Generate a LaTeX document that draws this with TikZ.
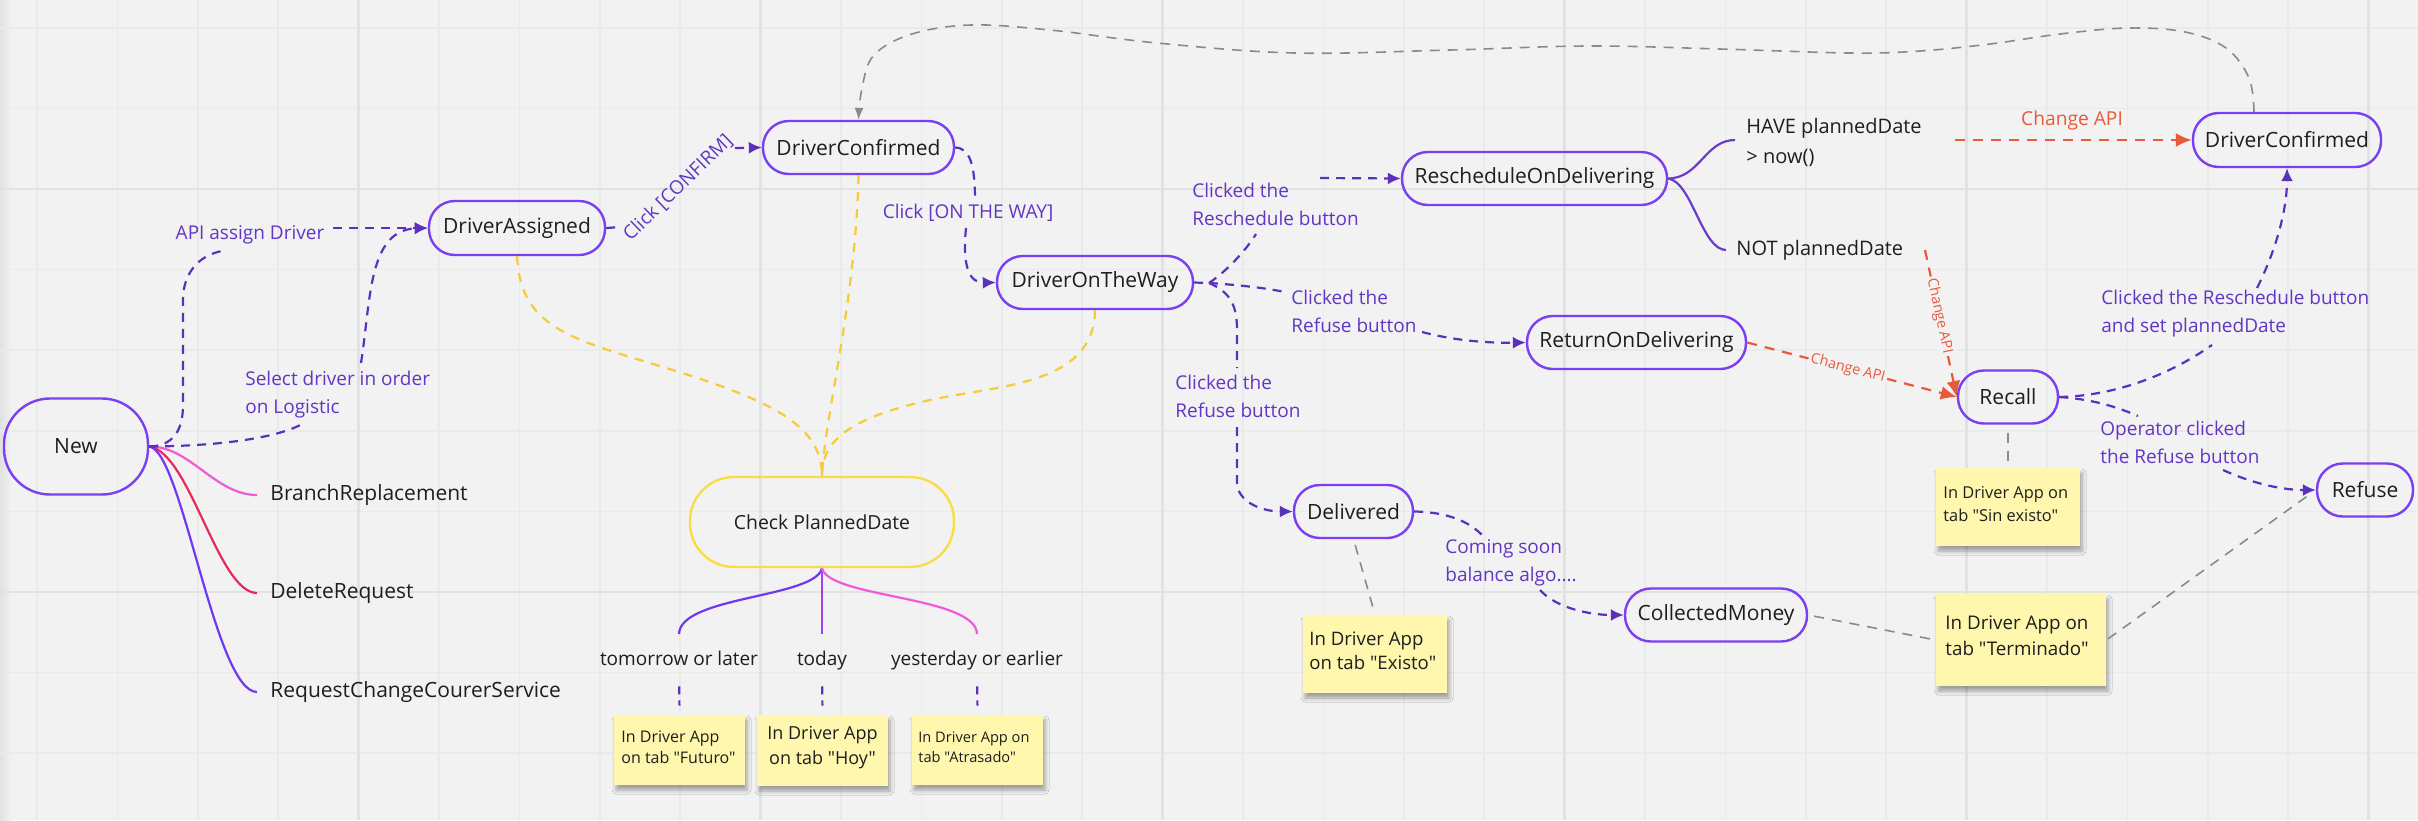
\documentclass[tikz,border=0pt]{standalone}
\usepackage{fontspec}
\setmainfont{Open Sans}[Ligatures=TeXOff]
\usetikzlibrary{arrows.meta,shadows,shadows.blur}
\definecolor{bg}{HTML}{F2F2F2}
\definecolor{gridmin}{HTML}{EAEAEA}
\definecolor{gridmaj}{HTML}{E2E2E2}
\definecolor{nodeb}{HTML}{7A3FF0}
\definecolor{ptext}{HTML}{6236C4}
\definecolor{parrow}{HTML}{5B31BC}
\definecolor{orng}{HTML}{E85A3C}
\definecolor{yline}{HTML}{F5CB3A}
\definecolor{yborder}{HTML}{FADC45}
\definecolor{stickyc}{HTML}{FFF7AE}
\definecolor{gline}{HTML}{8A8A8A}
\definecolor{txt}{HTML}{1E1E1E}
\definecolor{pinkc}{HTML}{F05AD7}
\definecolor{redc}{HTML}{E8295B}
\definecolor{violc}{HTML}{7038F0}
\definecolor{midc}{HTML}{A040EE}
\definecolor{rodc}{HTML}{6A3CC8}
\tikzset{
  gmin/.style={draw=gridmin, line width=0.75pt},
  gmaj/.style={draw=gridmaj, line width=1.25pt},
  state/.style={draw=nodeb, line width=1.2pt, rounded corners=12.9pt, minimum height=26.5pt,
    inner sep=0pt, text=txt, font=\fontsize{10.5pt}{12pt}\selectfont},
  bigstate/.style={state, rounded corners=23pt, minimum height=48pt},
  lbl/.style={text=ptext, font=\fontsize{9.5pt}{14pt}\selectfont, inner sep=0pt, align=left},
  leaf/.style={text=txt, font=\fontsize{10.5pt}{15pt}\selectfont, inner sep=0pt, align=left},
  cond/.style={text=txt, font=\fontsize{9.5pt}{12pt}\selectfont, inner sep=0pt, text height=7pt, text depth=2pt},
  olbl/.style={text=orng, font=\fontsize{9.6pt}{12pt}\selectfont, inner sep=0pt},
  osmall/.style={text=orng, font=\fontsize{7.2pt}{9pt}\selectfont, inner sep=1.2pt, fill=bg},
  flow/.style={draw=parrow, line width=1.1pt, dash pattern=on 4.5pt off 3.5pt},
  flowarrow/.style={flow, -{Latex[length=6.5pt,width=6pt]}},
  oflow/.style={draw=orng, line width=1.1pt, dash pattern=on 5pt off 4pt, -{Latex[length=8pt,width=7pt]}},
  ydash/.style={draw=yline, line width=1.1pt, dash pattern=on 4.5pt off 4pt},
  gdash/.style={draw=gline, line width=0.8pt, dash pattern=on 5pt off 4pt},
  pdash/.style={draw=parrow, line width=1.1pt, dash pattern=on 4pt off 3pt},
  solidl/.style={line width=1.1pt},
  sticky/.style={fill=stickyc, inner sep=0pt,
    blur shadow={shadow xshift=1pt, shadow yshift=-2.5pt, shadow opacity=35, shadow blur radius=2pt}},
  stext/.style={text=txt, inner sep=0pt, align=left},
}
\begin{document}
\begin{tikzpicture}[x=0.5pt,y=0.5pt]
\fill[bg] (0,0) rectangle (2418,-820);
\useasboundingbox (0,0) rectangle (2418,-820);
\fill[left color=gridmaj, right color=bg] (0,0) rectangle (12,-820);
% grid
\foreach \k in {0,...,29} {\draw[gmin] ({37+80.4*\k},0) -- ({37+80.4*\k},-820);}
\foreach \j in {0,...,9} {\draw[gmin] (0,{-27.8-80.6*\j}) -- (2418,{-27.8-80.6*\j});}
\foreach \k in {4,9,14,19,24,29} {\draw[gmaj] ({37+80.4*\k},0) -- ({37+80.4*\k},-820);}
\foreach \j in {2,7} {\draw[gmaj] (0,{-27.8-80.6*\j}) -- (2418,{-27.8-80.6*\j});}

% state nodes
\node[bigstate, minimum width=72pt] (New) at (76,-446.5) {New};
\node[state, minimum width=88pt, minimum height=27pt] (DA) at (517,-228) {DriverAssigned};
\node[state, minimum width=95.5pt] (DC) at (858.5,-147.5) {DriverConfirmed};
\node[state, minimum width=98pt] (DOTW) at (1095,-282.5) {DriverOnTheWay};
\node[state, minimum width=132.5pt] (RoD) at (1534.5,-178.5) {RescheduleOnDelivering};
\node[state, minimum width=109.5pt] (RetOD) at (1636.5,-342.5) {ReturnOnDelivering};
\node[state, minimum width=94pt, minimum height=27pt] (DCr) at (2287,-140) {DriverConfirmed};
\node[state, minimum width=50pt] (Recall) at (2008,-397) {Recall};
\node[state, minimum width=48pt] (Refuse) at (2365,-490) {Refuse};
\node[state, minimum width=59.5pt] (Delivered) at (1353.5,-511.5) {Delivered};
\node[state, minimum width=91pt] (CM) at (1716,-615) {CollectedMoney};
\node[bigstate, draw=yborder, minimum width=132pt, minimum height=45pt, rounded corners=22pt,
  font=\fontsize{9.7pt}{12pt}\selectfont] (CPD) at (822,-522) {Check PlannedDate};

% plain texts
\node[leaf, anchor=west] (lBR) at (270,-495) {BranchReplacement};
\node[leaf, anchor=west] (lDel) at (270,-593) {DeleteRequest};
\node[leaf, anchor=west] (lRC) at (270,-692) {RequestChangeCourerService};
\node[cond] (lTom) at (679,-660) {tomorrow or later};
\node[cond] (lTod) at (822,-660) {today};
\node[cond] (lYes) at (977,-660) {yesterday or earlier};
\node[leaf, anchor=west, font=\fontsize{10pt}{15pt}\selectfont] (lHave) at (1746,-142) {HAVE plannedDate\\> now()};
\node[leaf, anchor=west, font=\fontsize{10pt}{15pt}\selectfont] (lNot) at (1736,-250) {NOT plannedDate};

% purple labels
\node[lbl] (lAPI) at (250,-235) {API assign Driver};
\node[lbl, anchor=west] (lSel) at (245,-395) {Select driver in order\\on Logistic};
\node[lbl, rotate=44] (lConf) at (678,-188) {Click [CONFIRM]};
\node[lbl] (lOTW) at (968,-213) {Click [ON THE WAY]};
\node[lbl, anchor=west] (lRes) at (1192,-204) {Clicked the\\Reschedule button};
\node[lbl, anchor=west] (lRef1) at (1291,-311.5) {Clicked the\\Refuse button};
\node[lbl, anchor=west] (lRef2) at (1175,-396) {Clicked the\\Refuse button};
\node[lbl, anchor=west] (lCom) at (1445,-562.5) {Coming soon\\balance algo....};
\node[lbl, anchor=west] (lRS) at (2101,-314) {Clicked the Reschedule button\\and set plannedDate};
\node[lbl, anchor=west] (lOp) at (2100,-442.5) {Operator clicked\\the Refuse button};
\node[olbl] (lCA) at (2072,-121) {Change API};

% New branches
\draw[solidl, draw=pinkc, shorten >=6.5pt] (New.east) .. controls (190,-446) and (215,-495) .. (lBR.west);
\draw[solidl, draw=redc, shorten >=6.5pt] (New.east) .. controls (190,-452) and (218,-593) .. (lDel.west);
\draw[solidl, draw=violc, shorten >=6.5pt] (New.east) .. controls (182,-450) and (215,-692) .. (lRC.west);

% New -> DriverAssigned
\draw[flow] (New.east) .. controls (172,-446) and (183,-432) .. (183,-405) -- (183,-300) .. controls (183,-272) and (200,-255) .. (222,-251);
\draw[flowarrow] (333,-228) -- (DA.west);
\draw[flow] (New.east) .. controls (225,-446) and (280,-437) .. (304,-423);
\draw[flowarrow] (361,-363) .. controls (371,-300) and (368,-230) .. (DA.west);

% DA -> DC
\draw[flow] (DA.east) -- (621,-227);
\draw[flowarrow] (735,-148) -- (DC.west);

% DC -> DOTW
\draw[flow] (DC.east) .. controls (970,-148) and (975,-165) .. (975,-200);
\draw[flowarrow] (966,-228) .. controls (962,-268) and (970,-283) .. (DOTW.west);

% DOTW fan-out
\coordinate (J) at (1209,-283);
\draw[flow] (DOTW.east) -- (J);
\draw[flow] (J) .. controls (1228,-270) and (1246,-250) .. (1256,-234);
\draw[flowarrow] (1320,-178) -- (RoD.west);
\draw[flow] (J) .. controls (1240,-285) and (1265,-288) .. (1285,-292);
\draw[flowarrow] (1422,-332) .. controls (1460,-342) and (1495,-343) .. (RetOD.west);
\draw[flow] (J) .. controls (1230,-292) and (1237,-305) .. (1237,-330) -- (1237,-368);
\draw[flowarrow] (1237,-427) -- (1237,-482) .. controls (1237,-502) and (1262,-511.5) .. (Delivered.west);

% Delivered -> CM
\draw[flow] (Delivered.east) .. controls (1448,-512) and (1470,-522) .. (1483,-536);
\draw[flowarrow] (1540,-590) .. controls (1556,-608) and (1590,-615) .. (CM.west);

% RoD branches
\draw[solidl, draw=rodc] (RoD.east) .. controls (1700,-178) and (1705,-140) .. (1735,-140);
\draw[solidl, draw=rodc] (RoD.east) .. controls (1692,-182) and (1702,-250) .. (1726,-250);

% orange
\coordinate (H) at (1955,-140);
\coordinate (Nt) at (1925,-250);
\draw[oflow] (H) -- (DCr.west);
\draw[oflow] (Nt) -- node[osmall, sloped, pos=0.45] {Change API} (Recall.west);
\draw[oflow] (RetOD.east) -- node[osmall, sloped, pos=0.48] {Change API} (Recall.west);

% Recall outgoing
\draw[flow] (Recall.east) .. controls (2110,-396) and (2165,-378) .. (2212,-345);
\draw[flowarrow] (2257,-288) .. controls (2276,-250) and (2287,-210) .. (DCr.south);
\draw[flow] (Recall.east) .. controls (2090,-399) and (2115,-406) .. (2138,-416);
\draw[flowarrow] (2223,-470) .. controls (2256,-485) and (2285,-490) .. (Refuse.west);

% gray loop
\coordinate (gtop) at ([xshift=-16.5pt]DCr.north);
\draw[gdash, -{Latex[length=6pt,width=4.5pt]}] plot[smooth, tension=0.6] coordinates {(gtop) (2249,-78) (2226,-48) (2185,-32) (2128,-28) (2060,-34) (1990,-44) (1920,-51) (1850,-53) (1720,-49) (1588,-46) (1450,-50) (1295,-53) (1157,-43) (1050,-30) (971,-25) (912,-34) (874,-55) (862,-88) (DC.north)};

% yellow
\draw[ydash] (DA.south) .. controls (520,-320) and (560,-336) .. (640,-360) .. controls (760,-396) and (822,-420) .. (CPD.north);
\draw[ydash] (DC.south) .. controls (856,-300) and (824,-420) .. (CPD.north);
\draw[ydash] (DOTW.south) .. controls (1094,-385) and (1000,-385) .. (930,-400) .. controls (850,-418) and (822,-440) .. (CPD.north);

% CPD branches
\draw[solidl, draw=violc] (CPD.south) .. controls (815,-598) and (680,-596) .. (679,-634);
\draw[solidl, draw=midc] (CPD.south) -- (822,-634);
\draw[solidl, draw=pinkc] (CPD.south) .. controls (829,-598) and (976,-596) .. (977,-634);

% sticky notes
\node[sticky, minimum width=65.5pt, minimum height=35pt] (stFut) at (679.5,-750) {};
\node[sticky, minimum width=65.5pt, minimum height=35.5pt] (stHoy) at (822.5,-750.5) {};
\node[sticky, minimum width=65.5pt, minimum height=35pt] (stAtr) at (977.5,-750) {};
\node[sticky, minimum width=72pt, minimum height=39pt] (stEx) at (1375,-654) {};
\node[sticky, minimum width=72pt, minimum height=39pt] (stSin) at (2008,-507) {};
\node[sticky, minimum width=85pt, minimum height=46pt] (stTer) at (2021,-640) {};

\node[stext, anchor=west, font=\fontsize{8pt}{10.5pt}\selectfont] (tFut) at (621,-747.5) {In Driver App\\on tab "Futuro"};
\node[stext, align=center, font=\fontsize{9pt}{12.5pt}\selectfont] (tHoy) at (822.5,-747.5) {In Driver App\\on tab "Hoy"};
\node[stext, anchor=west, font=\fontsize{7.3pt}{10pt}\selectfont] (tAtr) at (918,-747) {In Driver App on\\tab "Atrasado"};
\node[stext, anchor=west, font=\fontsize{9.3pt}{12pt}\selectfont] (tEx) at (1309,-651) {In Driver App\\on tab "Existo"};
\node[stext, anchor=west, font=\fontsize{8.2pt}{11.5pt}\selectfont] (tSin) at (1943,-504.5) {In Driver App on\\tab "Sin existo"};
\node[stext, anchor=west, font=\fontsize{9.4pt}{13pt}\selectfont] (tTer) at (1945,-636) {In Driver App on\\tab "Terminado"};

% short purple dashes to stickies
\draw[pdash, shorten <=8.5pt, shorten >=4.5pt] (lTom.south) -- (stFut.north);
\draw[pdash, shorten <=8.5pt, shorten >=4.5pt] (lTod.south) -- (stHoy.north);
\draw[pdash, shorten <=8.5pt, shorten >=4.5pt] (lYes.south) -- (stAtr.north);

% gray note links
\draw[gdash, shorten <=3pt, shorten >=2pt] (Delivered.south) -- (stEx.north);
\draw[gdash, shorten <=4pt, shorten >=2.5pt] (Recall.south) -- (stSin.north);
\draw[gdash, shorten <=3pt, shorten >=1pt] (CM.east) -- (stTer.west);
\draw[gdash, shorten <=1pt, shorten >=3pt] (stTer.east) -- (Refuse.west);
\end{tikzpicture}
\end{document}
